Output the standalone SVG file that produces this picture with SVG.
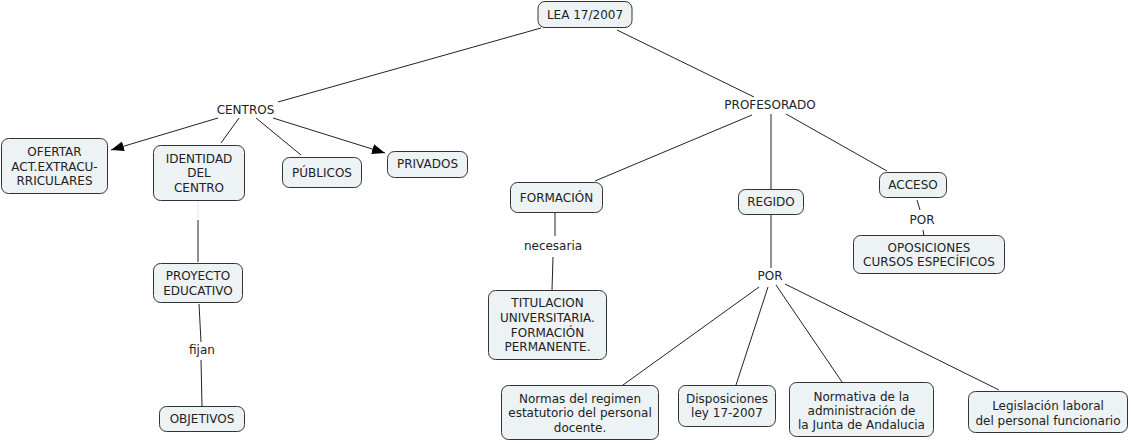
<svg xmlns="http://www.w3.org/2000/svg" width="1131" height="443" viewBox="0 0 1131 443">
<defs>
<style>
.n rect{fill:#edf2f5;stroke:#333;stroke-width:1}
text{font-family:"DejaVu Sans",Verdana,sans-serif;font-size:12px;fill:#222;text-anchor:middle;dominant-baseline:central}
.c line{stroke:#222;stroke-width:1}
</style>
<marker id="ah" markerUnits="userSpaceOnUse" markerWidth="14" markerHeight="12" refX="13" refY="5" orient="auto">
<path d="M0,0 L13,5 L0,10 Z" fill="#000"/>
</marker>
</defs>
<rect width="1131" height="443" fill="#fff"/>
<g id="connectors" class="c">
<line x1="541" y1="28" x2="278" y2="102"/>
<line x1="617" y1="30" x2="754" y2="97"/>
<line x1="218" y1="118" x2="111" y2="150" marker-end="url(#ah)"/>
<line x1="239" y1="118" x2="221" y2="143"/>
<line x1="256" y1="118" x2="301" y2="155"/>
<line x1="273" y1="118" x2="385" y2="153" marker-end="url(#ah)"/>
<line x1="198" y1="201" x2="198" y2="218" style="stroke:#e4e4e4"/>
<line x1="198" y1="220" x2="198" y2="262"/>
<line x1="199" y1="304" x2="201" y2="342"/>
<line x1="201" y1="360" x2="202" y2="406"/>
<line x1="752" y1="115" x2="595" y2="181"/>
<line x1="771" y1="114" x2="771" y2="189"/>
<line x1="786" y1="114" x2="887" y2="171"/>
<line x1="555" y1="213" x2="555" y2="236"/>
<line x1="553" y1="257" x2="552" y2="290"/>
<line x1="771" y1="215" x2="771" y2="268"/>
<line x1="917" y1="200" x2="920" y2="210"/>
<line x1="923" y1="230" x2="924" y2="236"/>
<line x1="759" y1="287" x2="623" y2="385"/>
<line x1="768" y1="287" x2="736" y2="385"/>
<line x1="776" y1="285" x2="842" y2="382"/>
<line x1="785" y1="284" x2="999" y2="390"/>
</g>
<g id="lea" class="n"><rect x="538" y="1.5" width="94" height="26" rx="7"/><text x="585" y="14.5">LEA 17/2007</text></g>
<g id="centros"><text x="245.5" y="110">CENTROS</text></g>
<g id="profesorado"><text x="770" y="105">PROFESORADO</text></g>
<g id="ofertar" class="n"><rect x="1.5" y="138.5" width="106" height="55" rx="7"/><text x="54.5" y="152">OFERTAR</text><text x="54.5" y="166.5">ACT.EXTRACU-</text><text x="54.5" y="181">RRICULARES</text></g>
<g id="identidad" class="n"><rect x="153.5" y="145.5" width="91" height="55" rx="7"/><text x="199" y="158.5">IDENTIDAD</text><text x="199" y="173">DEL</text><text x="199" y="187.5">CENTRO</text></g>
<g id="publicos" class="n"><rect x="282.5" y="157.5" width="79" height="30" rx="7"/><text x="322" y="173">PÚBLICOS</text></g>
<g id="privados" class="n"><rect x="387.5" y="151.5" width="80" height="26" rx="7"/><text x="427.5" y="163.5">PRIVADOS</text></g>
<g id="proyecto" class="n"><rect x="153.5" y="263.5" width="89" height="39" rx="7"/><text x="198" y="276">PROYECTO</text><text x="198" y="290.5">EDUCATIVO</text></g>
<g id="fijan"><text x="202" y="350">fijan</text></g>
<g id="objetivos" class="n"><rect x="159.5" y="406.5" width="85" height="25" rx="7"/><text x="202" y="419">OBJETIVOS</text></g>
<g id="formacion" class="n"><rect x="510.5" y="182.5" width="92" height="30" rx="7"/><text x="556.5" y="198">FORMACIÓN</text></g>
<g id="necesaria"><text x="553" y="246">necesaria</text></g>
<g id="titulacion" class="n"><rect x="488.5" y="290.5" width="118" height="69" rx="7"/><text x="547.5" y="303">TITULACION</text><text x="547.5" y="318">UNIVERSITARIA.</text><text x="547.5" y="332.5">FORMACIÓN</text><text x="547.5" y="347">PERMANENTE.</text></g>
<g id="regido" class="n"><rect x="738.5" y="189.5" width="65" height="25" rx="7"/><text x="771" y="202">REGIDO</text></g>
<g id="por1"><text x="770" y="276">POR</text></g>
<g id="acceso" class="n"><rect x="879.5" y="172.5" width="67" height="25" rx="7"/><text x="913" y="184.5">ACCESO</text></g>
<g id="por2"><text x="922" y="220">POR</text></g>
<g id="oposiciones" class="n"><rect x="853.5" y="235.5" width="151" height="38" rx="7"/><text x="929" y="248">OPOSICIONES</text><text x="929" y="262">CURSOS ESPECÍFICOS</text></g>
<g id="normas" class="n"><rect x="501.5" y="385.5" width="157" height="54" rx="7"/><text x="580" y="398.5">Normas del regimen</text><text x="580" y="413">estatutorio del personal</text><text x="580" y="427.5">docente.</text></g>
<g id="disposiciones" class="n"><rect x="678.5" y="385.5" width="97" height="41" rx="7"/><text x="727" y="398.5">Disposiciones</text><text x="727" y="413">ley 17-2007</text></g>
<g id="normativa" class="n"><rect x="789.5" y="382.5" width="144" height="54" rx="7"/><text x="861.5" y="396.5">Normativa de la</text><text x="861.5" y="411">administración de</text><text x="861.5" y="425">la Junta de Andalucia</text></g>
<g id="legislacion" class="n"><rect x="968.5" y="391.5" width="159" height="41" rx="7"/><text x="1048" y="406">Legislación laboral</text><text x="1048" y="420.5">del personal funcionario</text></g>
</svg>
